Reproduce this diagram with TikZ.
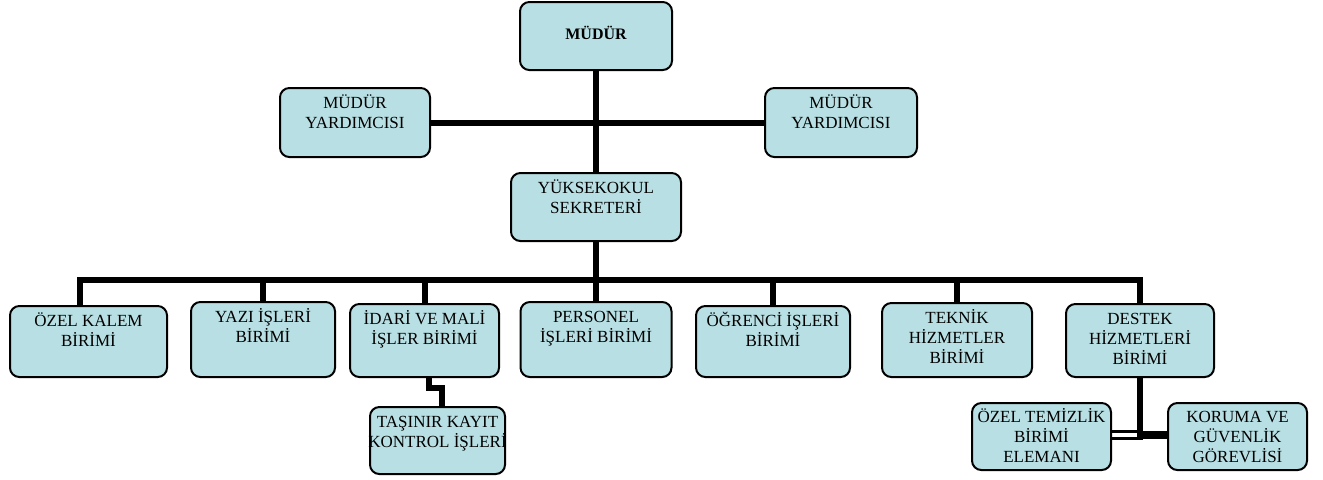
\documentclass[tikz,border=0pt]{standalone}
\usepackage{fontspec}
\setmainfont{Liberation Serif}
\definecolor{boxfill}{RGB}{184,223,227}
\newcommand\orgtxt[1]{\begin{tabular}[t]{@{}c@{}}#1\end{tabular}}
\begin{document}
\begin{tikzpicture}[x=0.75pt,y=-0.75pt,
  box/.style={draw=black, fill=boxfill, line width=1.5pt, rounded corners=7pt, inner sep=0pt},
  bx/.style 2 args={box, minimum width=#1*0.75pt, minimum height=#2*0.75pt},
  lbl/.style={inner sep=0pt, anchor=base, font=\fontsize{12.75}{15}\selectfont},
  conn/.style={line width=4.5pt, line join=miter, draw=black},
  dbl/.style={line width=2.2pt, draw=black}]
\useasboundingbox (0,0) rectangle (1323,479);

% boxes
\node[bx={152}{68}] (mudur) at (596,36) {};
\node[bx={150}{69}] (myl) at (355,122.5) {};
\node[bx={152}{69}] (myr) at (841,122.5) {};
\node[bx={170}{68}] (ys) at (596,207) {};
\node[bx={157}{71}] (ozel) at (88.5,341.5) {};
\node[bx={144}{75}] (yazi) at (263,339.5) {};
\node[bx={149}{73}] (idari) at (424.5,340.5) {};
\node[bx={151}{75}] (pers) at (596,339.5) {};
\node[bx={154}{71}] (ogr) at (773,341.5) {};
\node[bx={150}{74}] (tek) at (957,340) {};
\node[bx={148}{73}] (des) at (1140,340.5) {};
\node[bx={135}{67}] (tas) at (437.5,440.5) {};
\node[bx={139}{67}] (ozt) at (1041.5,436.5) {};
\node[bx={139}{67}] (kor) at (1237.5,436.5) {};

% labels
\node[inner sep=0pt, font=\bfseries\fontsize{12}{14}\selectfont] (t-mudur) at (596,33) {MÜDÜR};
\node[lbl] (t-myl) at ([yshift=-16pt]myl.north) {\orgtxt{MÜDÜR\\YARDIMCISI}};
\node[lbl] (t-myr) at ([yshift=-16pt]myr.north) {\orgtxt{MÜDÜR\\YARDIMCISI}};
\node[lbl] (t-ys) at ([yshift=-16.3pt]ys.north) {\orgtxt{YÜKSEKOKUL\\SEKRETERİ}};
\node[lbl] (t-ozel) at ([yshift=-16.3pt]ozel.north) {\orgtxt{ÖZEL KALEM\\BİRİMİ}};
\node[lbl] (t-yazi) at ([yshift=-16.3pt]yazi.north) {\orgtxt{YAZI İŞLERİ\\BİRİMİ}};
\node[lbl] (t-idari) at ([yshift=-16.3pt]idari.north) {\orgtxt{İDARİ VE MALİ\\İŞLER BİRİMİ}};
\node[lbl] (t-pers) at ([yshift=-16.3pt]pers.north) {\orgtxt{PERSONEL\\İŞLERİ BİRİMİ}};
\node[lbl] (t-ogr) at ([yshift=-16.3pt]ogr.north) {\orgtxt{ÖĞRENCİ İŞLERİ\\BİRİMİ}};
\node[lbl] (t-tek) at ([yshift=-16.3pt]tek.north) {\orgtxt{TEKNİK\\HİZMETLER\\BİRİMİ}};
\node[lbl] (t-des) at ([yshift=-16.3pt]des.north) {\orgtxt{DESTEK\\HİZMETLERİ\\BİRİMİ}};
\node[lbl] (t-tas) at ([yshift=-16.3pt]tas.north) {\orgtxt{TAŞINIR KAYIT\\KONTROL İŞLERİ}};
\node[lbl] (t-ozt) at ([yshift=-15.3pt]ozt.north) {\orgtxt{ÖZEL TEMİZLİK\\BİRİMİ\\ELEMANI}};
\node[lbl] (t-kor) at ([yshift=-15.3pt]kor.north) {\orgtxt{KORUMA VE\\GÜVENLİK\\GÖREVLİSİ}};

% connectors
\coordinate (bar) at (0,280);
\coordinate (ozd) at ([xshift=-6.4pt]ozel.north);
\draw[conn] (mudur.south) -- (ys.north);
\draw[conn] (myl.east) -- (myr.west);
\draw[conn] (ys.south) -- (ys.south |- bar);
\draw[conn] (ozd) -- (ozd |- bar) -- (des.north |- bar) -- (des.north);
\draw[conn] (yazi.north) -- (yazi.north |- bar);
\draw[conn] (idari.north) -- (idari.north |- bar);
\draw[conn] (pers.north) -- (pers.north |- bar);
\draw[conn] (ogr.north) -- (ogr.north |- bar);
\draw[conn] (tek.north) -- (tek.north |- bar);

\coordinate (zz1) at (429,388);
\coordinate (zz2) at (442,388);
\draw[conn, line width=4pt] (idari.south -| zz1) -- (zz1) -- (zz2) -- (tas.north -| zz2);

\coordinate (dv) at (1140,440);
\coordinate (d1) at (1140,431.5);
\coordinate (d2) at (1140,438.5);
\coordinate (d3) at (1140,435);
\draw[conn] (des.south) -- (dv);
\draw[dbl] (ozt.east |- d1) -- (d1);
\draw[dbl] (ozt.east |- d2) -- (d2);
\draw[conn, line width=6pt] (d3) -- (kor.west |- d3);
\end{tikzpicture}
\end{document}
